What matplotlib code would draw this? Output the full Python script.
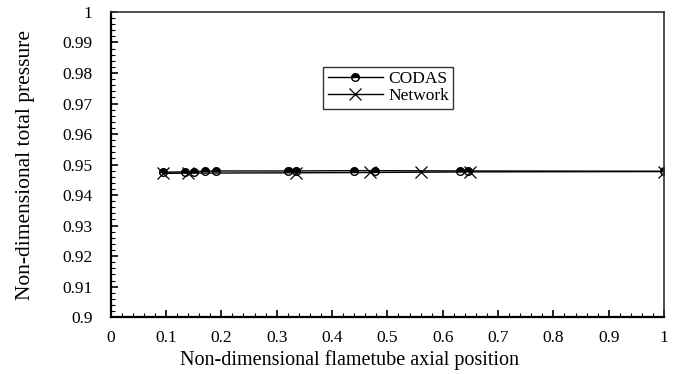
import matplotlib
matplotlib.use('Agg')
import matplotlib.pyplot as plt
from matplotlib.ticker import MultipleLocator

# --- Daten ---
codas_x = [0.095, 0.135, 0.15, 0.17, 0.19, 0.32, 0.335, 0.44, 0.478, 0.632, 0.645, 1.0]
codas_y = [0.9475, 0.9476, 0.9477, 0.9478, 0.9479, 0.9479, 0.9479, 0.9480, 0.9480, 0.9479, 0.9479, 0.9478]

network_x = [0.095, 0.14, 0.335, 0.468, 0.56, 0.65, 1.0]
network_y = [0.9471, 0.9472, 0.9473, 0.9474, 0.9475, 0.9476, 0.9477]

plt.rcParams['font.family'] = ['Liberation Serif', 'DejaVu Serif']

fig, ax = plt.subplots(figsize=(6.79, 3.74), dpi=100)
fig.subplots_adjust(left=0.163, right=0.978, top=0.968, bottom=0.152)

ax.plot(codas_x, codas_y, color='black', lw=1, marker='o', ms=5.5,
        fillstyle='top', markerfacecolor='black', markerfacecoloralt='white',
        markeredgecolor='black', markeredgewidth=1, label='CODAS')
ax.plot(network_x, network_y, color='black', lw=1, marker='x', ms=9,
        markeredgewidth=0.9, label='Network')

ax.set_xlim(0, 1)
ax.set_ylim(0.9, 1)
ax.xaxis.set_major_locator(MultipleLocator(0.1))
ax.xaxis.set_minor_locator(MultipleLocator(0.02))
ax.yaxis.set_major_locator(MultipleLocator(0.01))
ax.yaxis.set_minor_locator(MultipleLocator(0.002))
ax.xaxis.set_major_formatter(plt.FuncFormatter(lambda v, p: f'{v:g}'))
ax.yaxis.set_major_formatter(plt.FuncFormatter(lambda v, p: f'{v:g}'))

ax.tick_params(which='major', direction='in', length=5, width=1.2, labelsize=12.5)
ax.tick_params(which='minor', direction='in', length=3, width=0.8)
ax.tick_params(axis='x', which='both', top=False, pad=9)
ax.tick_params(axis='y', which='both', right=False, pad=13)

for side in ['left', 'bottom']:
    ax.spines[side].set_linewidth(1.6)
for side in ['top', 'right']:
    ax.spines[side].set_linewidth(1.2)
    ax.spines[side].set_color('#333333')

ax.set_xlabel('Non-dimensional flametube axial position', fontsize=14.5)
ax.xaxis.set_label_coords(0.431, -0.108)
ax.set_ylabel('Non-dimensional total pressure', fontsize=15.5, labelpad=20)

leg = ax.legend(loc='upper left', bbox_to_anchor=(0.384, 0.82), fontsize=12.5,
                frameon=True, fancybox=False, edgecolor='black', handlelength=3.2,
                borderpad=0.25, labelspacing=0.05, handletextpad=0.3, borderaxespad=0)
leg.get_frame().set_linewidth(1.0)

fig.savefig('out.png', dpi=100)
